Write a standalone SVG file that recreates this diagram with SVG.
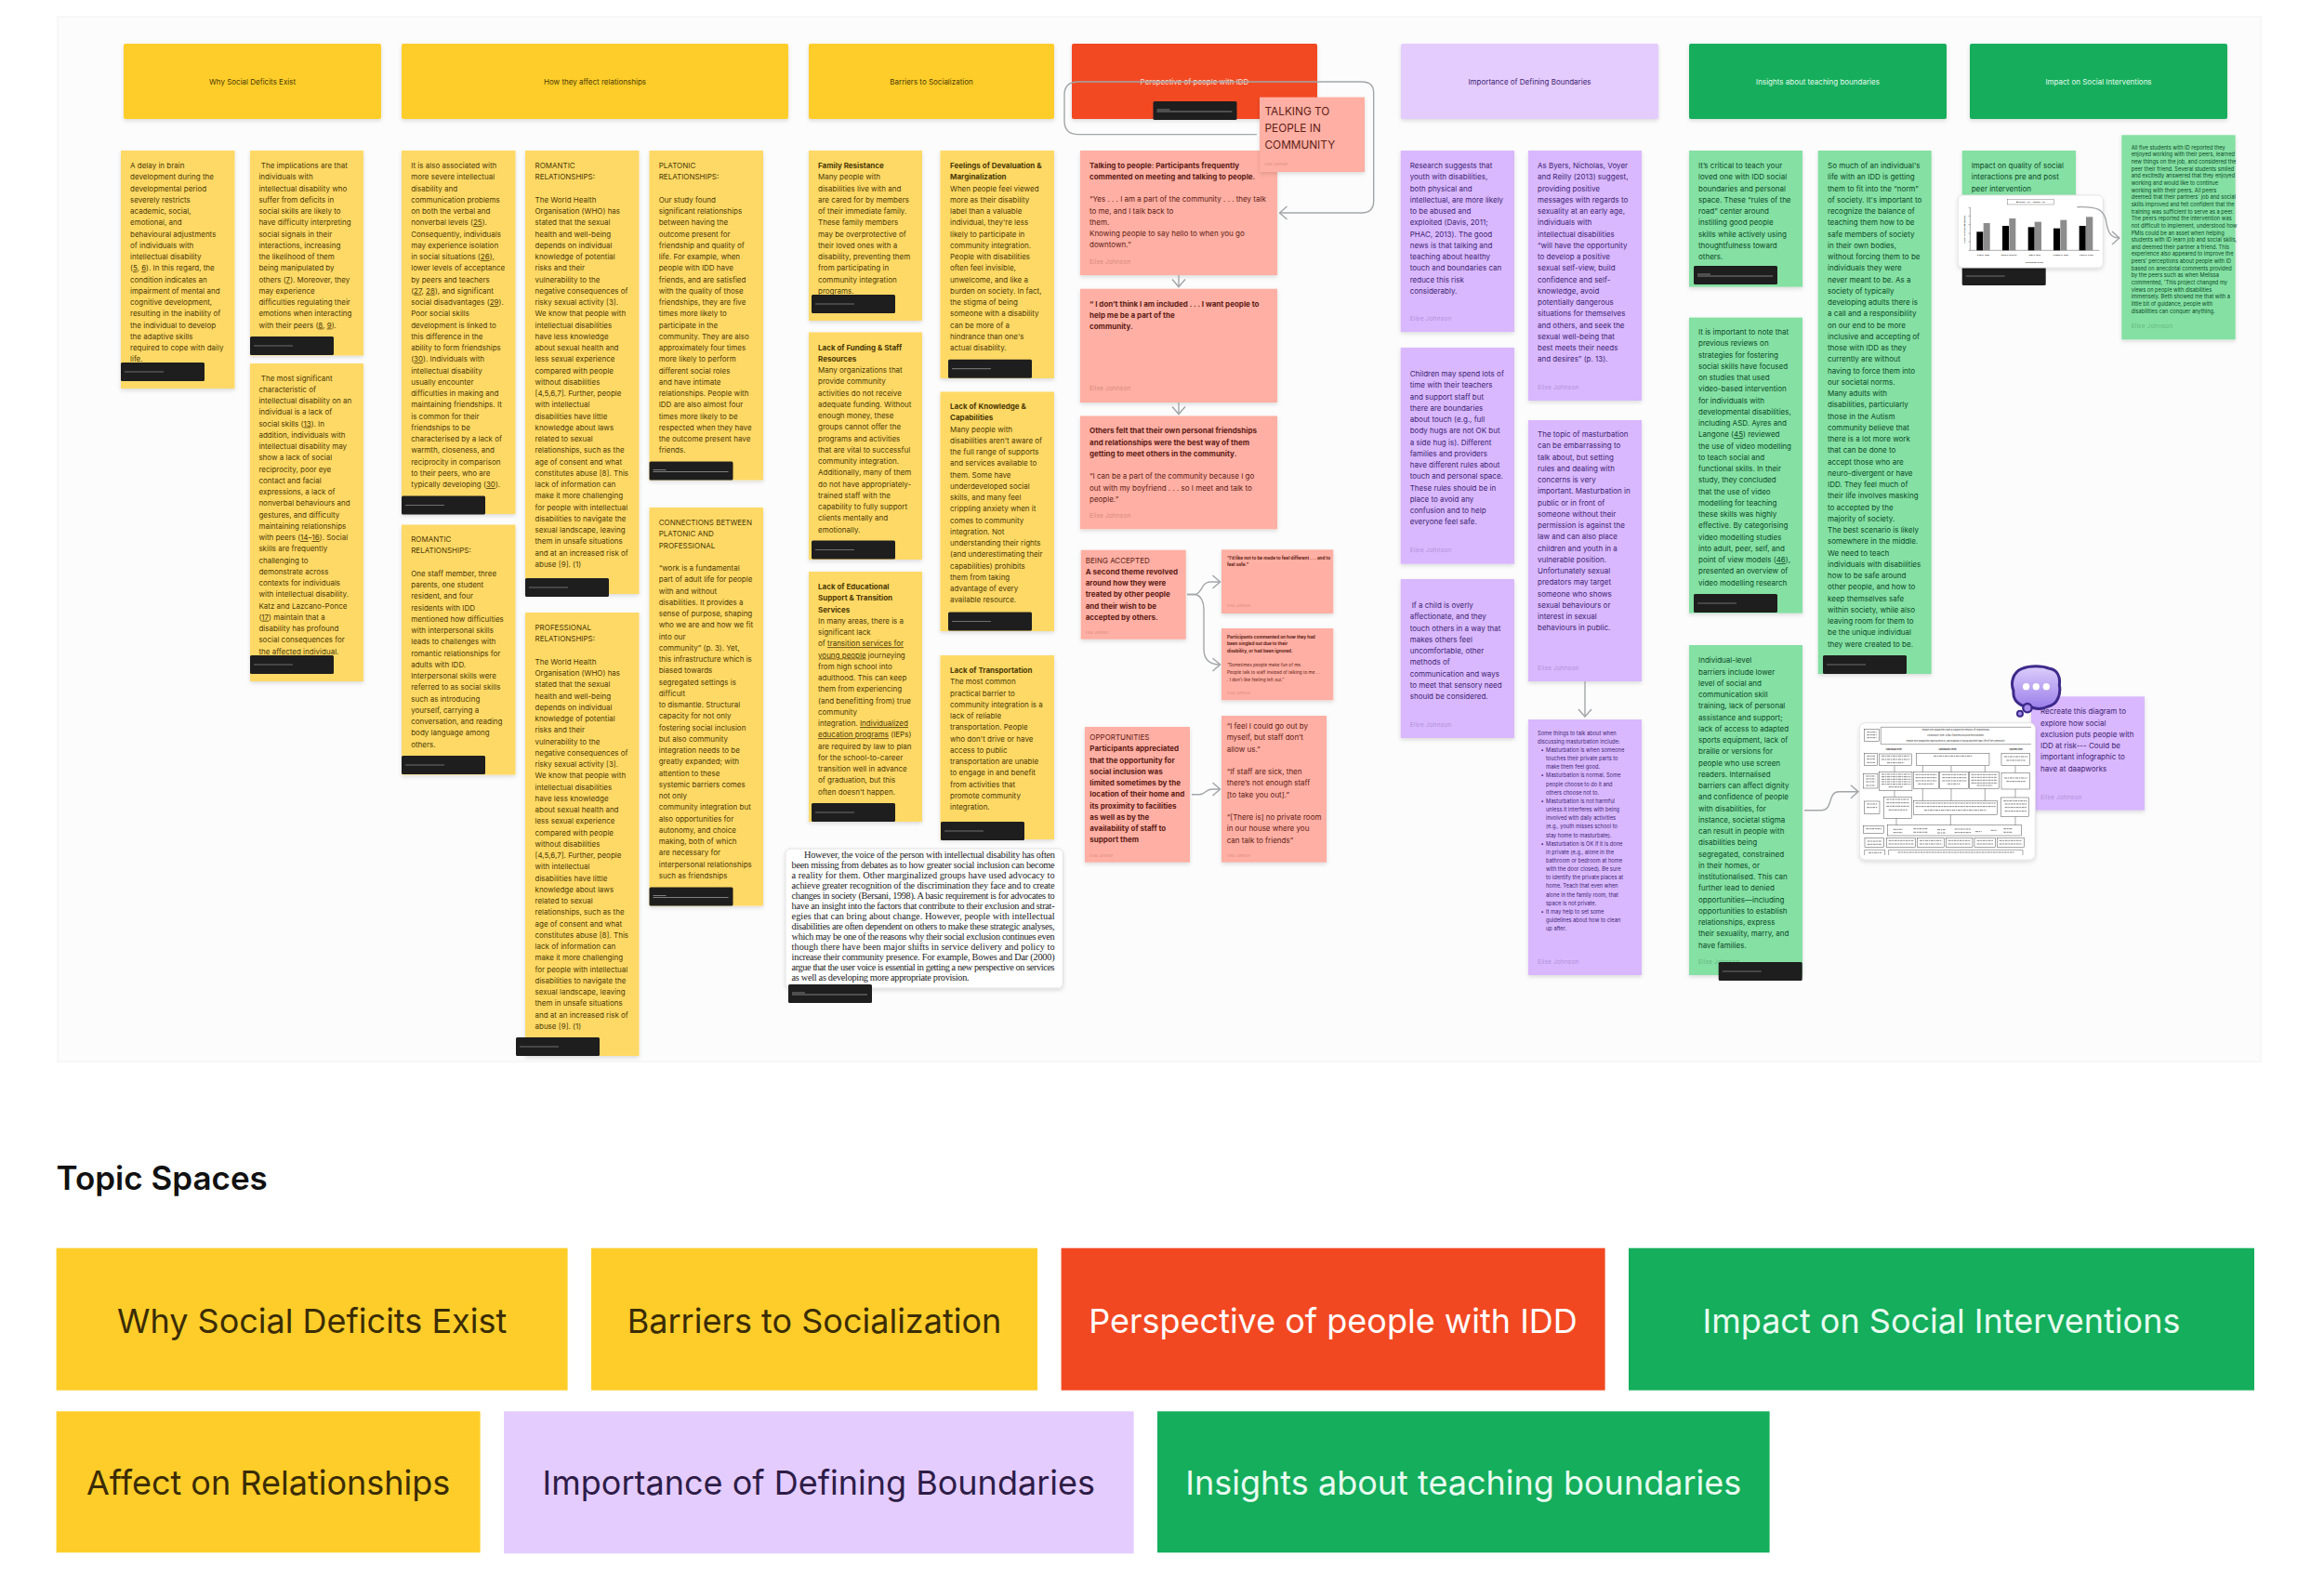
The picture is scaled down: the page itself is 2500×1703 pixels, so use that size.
<svg xmlns="http://www.w3.org/2000/svg" width="2500" height="1703" viewBox="0 0 2500 1703">
<style>
text{font-family:Inter,"Liberation Sans",sans-serif;font-size:8px}
.hd{rx:2px}
.ye{fill:#FFCD29}.re{fill:#F24822}.gr{fill:#14AE5C}.li{fill:#E4CCFF}
.lye{fill:#FFD966}.lre{fill:#FFAFA3}.lgr{fill:#85E0A3}.lvi{fill:#D9B8FF}
.sh{filter:url(#s)}
.yt text{fill:#4a3a05}.rt text{fill:#5c1d17}.gt text{fill:#0b4a28}.vt text{fill:#3e2570}
.c{text-anchor:middle;font-size:8px}
.b{font-weight:700}
.e{font-size:6.8px;fill-opacity:.3}
.e2{font-size:3.8px;fill-opacity:.3}
.u{text-decoration:underline}
.s{font-size:5.7px}
.xs{font-size:4.7px}
.con{fill:none;stroke:#a3a6a9;stroke-width:1.4;marker-end:url(#m)}
.q{font-family:"Liberation Serif",serif;font-size:10.3px;fill:#222}
.tile{font-size:36px;font-weight:400;text-anchor:middle}
.yt .tile{fill:#3a2c06}.vt .tile{fill:#2e1c47}
.box{fill:none;stroke:#333;stroke-width:1.3}
.tx{fill:none;stroke:#666;stroke-width:2.4;stroke-dasharray:9 2 5 2}
.ar{fill:none;stroke:#333;stroke-width:1.3}
.tiny{font-size:7px;fill:#333;text-anchor:middle}
.lab{font-family:"Liberation Serif",serif;font-weight:700;font-size:7.5px;fill:#222;text-anchor:middle}
</style>
<defs>
<filter id="s" x="-10%" y="-10%" width="120%" height="120%"><feDropShadow dx="0" dy="2" stdDeviation="2.2" flood-color="#000" flood-opacity=".13"/></filter>
<marker id="m" viewBox="-10 -9 11 18" refX="0" refY="0" markerWidth="11" markerHeight="18" markerUnits="userSpaceOnUse" orient="auto"><path d="M-8,-7 L0,0 L-8,7" fill="none" stroke="#a3a6a9" stroke-width="1.5"/></marker>
<linearGradient id="bub" x1="0" y1="0" x2="0" y2="1"><stop offset="0" stop-color="#DCCEFB"/><stop offset="1" stop-color="#9A7DEA"/></linearGradient>
<g id="bar"><rect width="90" height="20" rx="1.5" fill="#1e1e1e"/><path d="M4,10H46" stroke="#6f6f6f" stroke-width="1.2"/></g>
<g id="bar2"><rect width="90" height="20" rx="1.5" fill="#1e1e1e"/><path d="M4,9H18M4,11H85" stroke="#808080" stroke-width="1"/></g>
</defs>
<rect width="2500" height="1703" fill="#fff"/>
<rect id="canvas" x="62" y="18" width="2370" height="1124" fill="#fcfcfc" stroke="#f5f5f5" stroke-width="1.5"/>

<g id="headers">
<g id="h1" class="yt"><rect class="ye hd sh" x="133" y="47" width="277" height="81"/><text class="c" x="271.5" y="91">Why Social Deficits Exist</text></g>
<g id="h2" class="yt"><rect class="ye hd sh" x="432" y="47" width="416" height="81"/><text class="c" x="640" y="91">How they affect relationships</text></g>
<g id="h3" class="yt"><rect class="ye hd sh" x="870" y="47" width="264" height="81"/><text class="c" x="1002" y="91">Barriers to Socialization</text></g>
<g id="h4"><rect class="re hd sh" x="1153" y="47" width="264" height="81"/><text class="c" x="1285" y="91" style="fill:#fde0d8">Perspective of people with IDD</text><use href="#bar2" x="1240.5" y="109"/></g>
<g id="h5" class="vt"><rect class="li hd sh" x="1507" y="47" width="277" height="81"/><text class="c" x="1645.5" y="91">Importance of Defining Boundaries</text></g>
<g id="h6"><rect class="gr hd sh" x="1817" y="47" width="277" height="81"/><text class="c" x="1955.5" y="91" style="fill:#e4fbee">Insights about teaching boundaries</text></g>
<g id="h7"><rect class="gr hd sh" x="2119" y="47" width="277" height="81"/><text class="c" x="2257.5" y="91" style="fill:#e4fbee">Impact on Social Interventions</text></g>
</g>

<g id="yellow" class="yt">
<g id="n1"><rect class="lye sh" x="130" y="162" width="122.5" height="256"/>
<text y="181"><tspan x="140">A delay in brain</tspan><tspan x="140" dy="12.25">development during the</tspan><tspan x="140" dy="12.25">developmental period</tspan><tspan x="140" dy="12.25">severely restricts</tspan><tspan x="140" dy="12.25">academic, social,</tspan><tspan x="140" dy="12.25">emotional, and</tspan><tspan x="140" dy="12.25">behavioural adjustments</tspan><tspan x="140" dy="12.25">of individuals with</tspan><tspan x="140" dy="12.25">intellectual disability</tspan><tspan x="140" dy="12.25">(<tspan class="u">5</tspan>, <tspan class="u">6</tspan>). In this regard, the</tspan><tspan x="140" dy="12.25">condition indicates an</tspan><tspan x="140" dy="12.25">impairment of mental and</tspan><tspan x="140" dy="12.25">cognitive development,</tspan><tspan x="140" dy="12.25">resulting in the inability of</tspan><tspan x="140" dy="12.25">the individual to develop</tspan><tspan x="140" dy="12.25">the adaptive skills</tspan><tspan x="140" dy="12.25">required to cope with daily</tspan><tspan x="140" dy="12.25">life.</tspan></text><use href="#bar" x="130" y="390"/></g>
<g id="n2"><rect class="lye sh" x="269" y="162" width="122" height="220.5"/>
<text y="181"><tspan x="280.8">The implications are that</tspan><tspan x="278.4" dy="12.25">individuals with</tspan><tspan x="278.4" dy="12.25">intellectual disability who</tspan><tspan x="278.4" dy="12.25">suffer from deficits in</tspan><tspan x="278.4" dy="12.25">social skills are likely to</tspan><tspan x="278.4" dy="12.25">have difficulty interpreting</tspan><tspan x="278.4" dy="12.25">social signals in their</tspan><tspan x="278.4" dy="12.25">interactions, increasing</tspan><tspan x="278.4" dy="12.25">the likelihood of them</tspan><tspan x="278.4" dy="12.25">being manipulated by</tspan><tspan x="278.4" dy="12.25">others (<tspan class="u">7</tspan>). Moreover, they</tspan><tspan x="278.4" dy="12.25">may experience</tspan><tspan x="278.4" dy="12.25">difficulties regulating their</tspan><tspan x="278.4" dy="12.25">emotions when interacting</tspan><tspan x="278.4" dy="12.25">with their peers (<tspan class="u">8</tspan>, <tspan class="u">9</tspan>).</tspan></text><use href="#bar" x="269" y="362"/></g>
<g id="n3"><rect class="lye sh" x="269" y="391" width="122" height="342"/>
<text y="409.5"><tspan x="280.8">The most significant</tspan><tspan x="278.4" dy="12.25">characteristic of</tspan><tspan x="278.4" dy="12.25">intellectual disability on an</tspan><tspan x="278.4" dy="12.25">individual is a lack of</tspan><tspan x="278.4" dy="12.25">social skills (<tspan class="u">13</tspan>). In</tspan><tspan x="278.4" dy="12.25">addition, individuals with</tspan><tspan x="278.4" dy="12.25">intellectual disability may</tspan><tspan x="278.4" dy="12.25">show a lack of social</tspan><tspan x="278.4" dy="12.25">reciprocity, poor eye</tspan><tspan x="278.4" dy="12.25">contact and facial</tspan><tspan x="278.4" dy="12.25">expressions, a lack of</tspan><tspan x="278.4" dy="12.25">nonverbal behaviours and</tspan><tspan x="278.4" dy="12.25">gestures, and difficulty</tspan><tspan x="278.4" dy="12.25">maintaining relationships</tspan><tspan x="278.4" dy="12.25">with peers (<tspan class="u">14</tspan>–<tspan class="u">16</tspan>). Social</tspan><tspan x="278.4" dy="12.25">skills are frequently</tspan><tspan x="278.4" dy="12.25">challenging to</tspan><tspan x="278.4" dy="12.25">demonstrate across</tspan><tspan x="278.4" dy="12.25">contexts for individuals</tspan><tspan x="278.4" dy="12.25">with intellectual disability.</tspan><tspan x="278.4" dy="12.25">Katz and Lazcano-Ponce</tspan><tspan x="278.4" dy="12.25">(<tspan class="u">17</tspan>) maintain that a</tspan><tspan x="278.4" dy="12.25">disability has profound</tspan><tspan x="278.4" dy="12.25">social consequences for</tspan><tspan x="278.4" dy="12.25">the affected individual.</tspan></text><use href="#bar" x="269" y="705"/></g>
<g id="n4"><rect class="lye sh" x="432" y="162" width="122.5" height="391"/>
<text y="181"><tspan x="442.2">It is also associated with</tspan><tspan x="442.2" dy="12.25">more severe intellectual</tspan><tspan x="442.2" dy="12.25">disability and</tspan><tspan x="442.2" dy="12.25">communication problems</tspan><tspan x="442.2" dy="12.25">on both the verbal and</tspan><tspan x="442.2" dy="12.25">nonverbal levels (<tspan class="u">25</tspan>).</tspan><tspan x="442.2" dy="12.25">Consequently, individuals</tspan><tspan x="442.2" dy="12.25">may experience isolation</tspan><tspan x="442.2" dy="12.25">in social situations (<tspan class="u">26</tspan>),</tspan><tspan x="442.2" dy="12.25">lower levels of acceptance</tspan><tspan x="442.2" dy="12.25">by peers and teachers</tspan><tspan x="442.2" dy="12.25">(<tspan class="u">27</tspan>, <tspan class="u">28</tspan>), and significant</tspan><tspan x="442.2" dy="12.25">social disadvantages (<tspan class="u">29</tspan>).</tspan><tspan x="442.2" dy="12.25">Poor social skills</tspan><tspan x="442.2" dy="12.25">development is linked to</tspan><tspan x="442.2" dy="12.25">this difference in the</tspan><tspan x="442.2" dy="12.25">ability to form friendships</tspan><tspan x="442.2" dy="12.25">(<tspan class="u">30</tspan>). Individuals with</tspan><tspan x="442.2" dy="12.25">intellectual disability</tspan><tspan x="442.2" dy="12.25">usually encounter</tspan><tspan x="442.2" dy="12.25">difficulties in making and</tspan><tspan x="442.2" dy="12.25">maintaining friendships. It</tspan><tspan x="442.2" dy="12.25">is common for their</tspan><tspan x="442.2" dy="12.25">friendships to be</tspan><tspan x="442.2" dy="12.25">characterised by a lack of</tspan><tspan x="442.2" dy="12.25">warmth, closeness, and</tspan><tspan x="442.2" dy="12.25">reciprocity in comparison</tspan><tspan x="442.2" dy="12.25">to their peers, who are</tspan><tspan x="442.2" dy="12.25">typically developing (<tspan class="u">30</tspan>).</tspan></text><use href="#bar" x="432" y="533.5"/></g>
<g id="n5"><rect class="lye sh" x="432" y="564.5" width="122.5" height="269"/>
<text y="583"><tspan x="442.2">ROMANTIC</tspan><tspan x="442.2" dy="12.25">RELATIONSHIPS:</tspan><tspan x="442.2" dy="24.5">One staff member, three</tspan><tspan x="442.2" dy="12.25">parents, one student</tspan><tspan x="442.2" dy="12.25">resident, and four</tspan><tspan x="442.2" dy="12.25">residents with IDD</tspan><tspan x="442.2" dy="12.25">mentioned how difficulties</tspan><tspan x="442.2" dy="12.25">with interpersonal skills</tspan><tspan x="442.2" dy="12.25">leads to challenges with</tspan><tspan x="442.2" dy="12.25">romantic relationships for</tspan><tspan x="442.2" dy="12.25">adults with IDD.</tspan><tspan x="442.2" dy="12.25">Interpersonal skills were</tspan><tspan x="442.2" dy="12.25">referred to as social skills</tspan><tspan x="442.2" dy="12.25">such as introducing</tspan><tspan x="442.2" dy="12.25">yourself, carrying a</tspan><tspan x="442.2" dy="12.25">conversation, and reading</tspan><tspan x="442.2" dy="12.25">body language among</tspan><tspan x="442.2" dy="12.25">others.</tspan></text><use href="#bar" x="432" y="813"/></g>
<g id="n6"><rect class="lye sh" x="565" y="162" width="122.5" height="477"/>
<text y="181"><tspan x="575.5">ROMANTIC</tspan><tspan x="575.5" dy="12.25">RELATIONSHIPS:</tspan><tspan x="575.5" dy="24.5">The World Health</tspan><tspan x="575.5" dy="12.25">Organisation (WHO) has</tspan><tspan x="575.5" dy="12.25">stated that the sexual</tspan><tspan x="575.5" dy="12.25">health and well-being</tspan><tspan x="575.5" dy="12.25">depends on individual</tspan><tspan x="575.5" dy="12.25">knowledge of potential</tspan><tspan x="575.5" dy="12.25">risks and their</tspan><tspan x="575.5" dy="12.25">vulnerability to the</tspan><tspan x="575.5" dy="12.25">negative consequences of</tspan><tspan x="575.5" dy="12.25">risky sexual activity [3].</tspan><tspan x="575.5" dy="12.25">We know that people with</tspan><tspan x="575.5" dy="12.25">intellectual disabilities</tspan><tspan x="575.5" dy="12.25">have less knowledge</tspan><tspan x="575.5" dy="12.25">about sexual health and</tspan><tspan x="575.5" dy="12.25">less sexual experience</tspan><tspan x="575.5" dy="12.25">compared with people</tspan><tspan x="575.5" dy="12.25">without disabilities</tspan><tspan x="575.5" dy="12.25">[4,5,6,7]. Further, people</tspan><tspan x="575.5" dy="12.25">with intellectual</tspan><tspan x="575.5" dy="12.25">disabilities have little</tspan><tspan x="575.5" dy="12.25">knowledge about laws</tspan><tspan x="575.5" dy="12.25">related to sexual</tspan><tspan x="575.5" dy="12.25">relationships, such as the</tspan><tspan x="575.5" dy="12.25">age of consent and what</tspan><tspan x="575.5" dy="12.25">constitutes abuse [8]. This</tspan><tspan x="575.5" dy="12.25">lack of information can</tspan><tspan x="575.5" dy="12.25">make it more challenging</tspan><tspan x="575.5" dy="12.25">for people with intellectual</tspan><tspan x="575.5" dy="12.25">disabilities to navigate the</tspan><tspan x="575.5" dy="12.25">sexual landscape, leaving</tspan><tspan x="575.5" dy="12.25">them in unsafe situations</tspan><tspan x="575.5" dy="12.25">and at an increased risk of</tspan><tspan x="575.5" dy="12.25">abuse [9]. (1)</tspan></text><use href="#bar" x="565" y="622"/></g>
<g id="n7"><rect class="lye sh" x="565" y="659" width="122.5" height="477"/>
<text y="678"><tspan x="575.5">PROFESSIONAL</tspan><tspan x="575.5" dy="12.25">RELATIONSHIPS:</tspan><tspan x="575.5" dy="24.5">The World Health</tspan><tspan x="575.5" dy="12.25">Organisation (WHO) has</tspan><tspan x="575.5" dy="12.25">stated that the sexual</tspan><tspan x="575.5" dy="12.25">health and well-being</tspan><tspan x="575.5" dy="12.25">depends on individual</tspan><tspan x="575.5" dy="12.25">knowledge of potential</tspan><tspan x="575.5" dy="12.25">risks and their</tspan><tspan x="575.5" dy="12.25">vulnerability to the</tspan><tspan x="575.5" dy="12.25">negative consequences of</tspan><tspan x="575.5" dy="12.25">risky sexual activity [3].</tspan><tspan x="575.5" dy="12.25">We know that people with</tspan><tspan x="575.5" dy="12.25">intellectual disabilities</tspan><tspan x="575.5" dy="12.25">have less knowledge</tspan><tspan x="575.5" dy="12.25">about sexual health and</tspan><tspan x="575.5" dy="12.25">less sexual experience</tspan><tspan x="575.5" dy="12.25">compared with people</tspan><tspan x="575.5" dy="12.25">without disabilities</tspan><tspan x="575.5" dy="12.25">[4,5,6,7]. Further, people</tspan><tspan x="575.5" dy="12.25">with intellectual</tspan><tspan x="575.5" dy="12.25">disabilities have little</tspan><tspan x="575.5" dy="12.25">knowledge about laws</tspan><tspan x="575.5" dy="12.25">related to sexual</tspan><tspan x="575.5" dy="12.25">relationships, such as the</tspan><tspan x="575.5" dy="12.25">age of consent and what</tspan><tspan x="575.5" dy="12.25">constitutes abuse [8]. This</tspan><tspan x="575.5" dy="12.25">lack of information can</tspan><tspan x="575.5" dy="12.25">make it more challenging</tspan><tspan x="575.5" dy="12.25">for people with intellectual</tspan><tspan x="575.5" dy="12.25">disabilities to navigate the</tspan><tspan x="575.5" dy="12.25">sexual landscape, leaving</tspan><tspan x="575.5" dy="12.25">them in unsafe situations</tspan><tspan x="575.5" dy="12.25">and at an increased risk of</tspan><tspan x="575.5" dy="12.25">abuse [9]. (1)</tspan></text><use href="#bar" x="555" y="1116"/></g>
<g id="n8"><rect class="lye sh" x="698.5" y="162" width="122.5" height="354.5"/>
<text y="181"><tspan x="708.7">PLATONIC</tspan><tspan x="708.7" dy="12.25">RELATIONSHIPS:</tspan><tspan x="708.7" dy="24.5">Our study found</tspan><tspan x="708.7" dy="12.25">significant relationships</tspan><tspan x="708.7" dy="12.25">between having the</tspan><tspan x="708.7" dy="12.25">outcome present for</tspan><tspan x="708.7" dy="12.25">friendship and quality of</tspan><tspan x="708.7" dy="12.25">life. For example, when</tspan><tspan x="708.7" dy="12.25">people with IDD have</tspan><tspan x="708.7" dy="12.25">friends, and are satisfied</tspan><tspan x="708.7" dy="12.25">with the quality of those</tspan><tspan x="708.7" dy="12.25">friendships, they are five</tspan><tspan x="708.7" dy="12.25">times more likely to</tspan><tspan x="708.7" dy="12.25">participate in the</tspan><tspan x="708.7" dy="12.25">community. They are also</tspan><tspan x="708.7" dy="12.25">approximately four times</tspan><tspan x="708.7" dy="12.25">more likely to perform</tspan><tspan x="708.7" dy="12.25">different social roles</tspan><tspan x="708.7" dy="12.25">and have intimate</tspan><tspan x="708.7" dy="12.25">relationships. People with</tspan><tspan x="708.7" dy="12.25">IDD are also almost four</tspan><tspan x="708.7" dy="12.25">times more likely to be</tspan><tspan x="708.7" dy="12.25">respected when they have</tspan><tspan x="708.7" dy="12.25">the outcome present have</tspan><tspan x="708.7" dy="12.25">friends.</tspan></text><use href="#bar2" x="698.5" y="496.5"/></g>
<g id="n9"><rect class="lye sh" x="698.5" y="546" width="122.5" height="428.5"/>
<text y="565"><tspan x="708.7">CONNECTIONS BETWEEN</tspan><tspan x="708.7" dy="12.25">PLATONIC AND</tspan><tspan x="708.7" dy="12.25">PROFESSIONAL</tspan><tspan x="708.7" dy="24.5">“work is a fundamental</tspan><tspan x="708.7" dy="12.25">part of adult life for people</tspan><tspan x="708.7" dy="12.25">with and without</tspan><tspan x="708.7" dy="12.25">disabilities. It provides a</tspan><tspan x="708.7" dy="12.25">sense of purpose, shaping</tspan><tspan x="708.7" dy="12.25">who we are and how we fit</tspan><tspan x="708.7" dy="12.25">into our</tspan><tspan x="708.7" dy="12.25">community” (p. 3). Yet,</tspan><tspan x="708.7" dy="12.25">this infrastructure which is</tspan><tspan x="708.7" dy="12.25">biased towards</tspan><tspan x="708.7" dy="12.25">segregated settings is</tspan><tspan x="708.7" dy="12.25">difficult</tspan><tspan x="708.7" dy="12.25">to dismantle. Structural</tspan><tspan x="708.7" dy="12.25">capacity for not only</tspan><tspan x="708.7" dy="12.25">fostering social inclusion</tspan><tspan x="708.7" dy="12.25">but also community</tspan><tspan x="708.7" dy="12.25">integration needs to be</tspan><tspan x="708.7" dy="12.25">greatly expanded; with</tspan><tspan x="708.7" dy="12.25">attention to these</tspan><tspan x="708.7" dy="12.25">systemic barriers comes</tspan><tspan x="708.7" dy="12.25">not only</tspan><tspan x="708.7" dy="12.25">community integration but</tspan><tspan x="708.7" dy="12.25">also opportunities for</tspan><tspan x="708.7" dy="12.25">autonomy, and choice</tspan><tspan x="708.7" dy="12.25">making, both of which</tspan><tspan x="708.7" dy="12.25">are necessary for</tspan><tspan x="708.7" dy="12.25">interpersonal relationships</tspan><tspan x="708.7" dy="12.25">such as friendships</tspan></text><use href="#bar2" x="698.5" y="954.5"/></g>
<g id="n10"><rect class="lye sh" x="870" y="162" width="122" height="183"/>
<text y="181"><tspan x="880" class="b">Family Resistance</tspan><tspan x="880" dy="12.25">Many people with</tspan><tspan x="880" dy="12.25">disabilities live with and</tspan><tspan x="880" dy="12.25">are cared for by members</tspan><tspan x="880" dy="12.25">of their immediate family.</tspan><tspan x="880" dy="12.25">These family members</tspan><tspan x="880" dy="12.25">may be overprotective of</tspan><tspan x="880" dy="12.25">their loved ones with a</tspan><tspan x="880" dy="12.25">disability, preventing them</tspan><tspan x="880" dy="12.25">from participating in</tspan><tspan x="880" dy="12.25">community integration</tspan><tspan x="880" dy="12.25">programs.</tspan></text><use href="#bar" x="873" y="317"/></g>
<g id="n11"><rect class="lye sh" x="870" y="357.5" width="122" height="244.5"/>
<text y="376.5"><tspan x="880" class="b">Lack of Funding &amp; Staff</tspan><tspan x="880" dy="12.25" class="b">Resources</tspan><tspan x="880" dy="12.25">Many organizations that</tspan><tspan x="880" dy="12.25">provide community</tspan><tspan x="880" dy="12.25">activities do not receive</tspan><tspan x="880" dy="12.25">adequate funding. Without</tspan><tspan x="880" dy="12.25">enough money, these</tspan><tspan x="880" dy="12.25">groups cannot offer the</tspan><tspan x="880" dy="12.25">programs and activities</tspan><tspan x="880" dy="12.25">that are vital to successful</tspan><tspan x="880" dy="12.25">community integration.</tspan><tspan x="880" dy="12.25">Additionally, many of them</tspan><tspan x="880" dy="12.25">do not have appropriately-</tspan><tspan x="880" dy="12.25">trained staff with the</tspan><tspan x="880" dy="12.25">capability to fully support</tspan><tspan x="880" dy="12.25">clients mentally and</tspan><tspan x="880" dy="12.25">emotionally.</tspan></text><use href="#bar" x="873" y="581.5"/></g>
<g id="n12"><rect class="lye sh" x="870" y="615" width="122" height="269"/>
<text y="634"><tspan x="880" class="b">Lack of Educational</tspan><tspan x="880" dy="12.25" class="b">Support &amp; Transition</tspan><tspan x="880" dy="12.25" class="b">Services</tspan><tspan x="880" dy="12.25">In many areas, there is a</tspan><tspan x="880" dy="12.25">significant lack</tspan><tspan x="880" dy="12.25">of <tspan class="u">transition services for</tspan></tspan><tspan x="880" dy="12.25"><tspan class="u">young people</tspan> journeying</tspan><tspan x="880" dy="12.25">from high school into</tspan><tspan x="880" dy="12.25">adulthood. This can keep</tspan><tspan x="880" dy="12.25">them from experiencing</tspan><tspan x="880" dy="12.25">(and benefitting from) true</tspan><tspan x="880" dy="12.25">community</tspan><tspan x="880" dy="12.25">integration. <tspan class="u">Individualized</tspan></tspan><tspan x="880" dy="12.25"><tspan class="u">education programs</tspan> (IEPs)</tspan><tspan x="880" dy="12.25">are required by law to plan</tspan><tspan x="880" dy="12.25">for the school-to-career</tspan><tspan x="880" dy="12.25">transition well in advance</tspan><tspan x="880" dy="12.25">of graduation, but this</tspan><tspan x="880" dy="12.25">often doesn't happen.</tspan></text><use href="#bar" x="873" y="864"/></g>
<g id="n13"><rect class="lye sh" x="1011.5" y="162" width="122.5" height="245"/>
<text y="181"><tspan x="1022" class="b">Feelings of Devaluation &amp;</tspan><tspan x="1022" dy="12.25" class="b">Marginalization</tspan><tspan x="1022" dy="12.25">When people feel viewed</tspan><tspan x="1022" dy="12.25">more as their disability</tspan><tspan x="1022" dy="12.25">label than a valuable</tspan><tspan x="1022" dy="12.25">individual, they're less</tspan><tspan x="1022" dy="12.25">likely to participate in</tspan><tspan x="1022" dy="12.25">community integration.</tspan><tspan x="1022" dy="12.25">People with disabilities</tspan><tspan x="1022" dy="12.25">often feel invisible,</tspan><tspan x="1022" dy="12.25">unwelcome, and like a</tspan><tspan x="1022" dy="12.25">burden on society. In fact,</tspan><tspan x="1022" dy="12.25">the stigma of being</tspan><tspan x="1022" dy="12.25">someone with a disability</tspan><tspan x="1022" dy="12.25">can be more of a</tspan><tspan x="1022" dy="12.25">hindrance than one's</tspan><tspan x="1022" dy="12.25">actual disability.</tspan></text><use href="#bar" x="1020" y="386.7"/></g>
<g id="n14"><rect class="lye sh" x="1011.5" y="421.5" width="122.5" height="257.5"/>
<text y="440"><tspan x="1022" class="b">Lack of Knowledge &amp;</tspan><tspan x="1022" dy="12.25" class="b">Capabilities</tspan><tspan x="1022" dy="12.25">Many people with</tspan><tspan x="1022" dy="12.25">disabilities aren't aware of</tspan><tspan x="1022" dy="12.25">the full range of supports</tspan><tspan x="1022" dy="12.25">and services available to</tspan><tspan x="1022" dy="12.25">them. Some have</tspan><tspan x="1022" dy="12.25">underdeveloped social</tspan><tspan x="1022" dy="12.25">skills, and many feel</tspan><tspan x="1022" dy="12.25">crippling anxiety when it</tspan><tspan x="1022" dy="12.25">comes to community</tspan><tspan x="1022" dy="12.25">integration. Not</tspan><tspan x="1022" dy="12.25">understanding their rights</tspan><tspan x="1022" dy="12.25">(and underestimating their</tspan><tspan x="1022" dy="12.25">capabilities) prohibits</tspan><tspan x="1022" dy="12.25">them from taking</tspan><tspan x="1022" dy="12.25">advantage of every</tspan><tspan x="1022" dy="12.25">available resource.</tspan></text><use href="#bar" x="1020" y="658.5"/></g>
<g id="n15"><rect class="lye sh" x="1011.5" y="705" width="122.5" height="198"/>
<text y="724"><tspan x="1022" class="b">Lack of Transportation</tspan><tspan x="1022" dy="12.25">The most common</tspan><tspan x="1022" dy="12.25">practical barrier to</tspan><tspan x="1022" dy="12.25">community integration is a</tspan><tspan x="1022" dy="12.25">lack of reliable</tspan><tspan x="1022" dy="12.25">transportation. People</tspan><tspan x="1022" dy="12.25">who don't drive or have</tspan><tspan x="1022" dy="12.25">access to public</tspan><tspan x="1022" dy="12.25">transportation are unable</tspan><tspan x="1022" dy="12.25">to engage in and benefit</tspan><tspan x="1022" dy="12.25">from activities that</tspan><tspan x="1022" dy="12.25">promote community</tspan><tspan x="1022" dy="12.25">integration.</tspan></text><use href="#bar" x="1012" y="884"/></g>
</g>

<g id="quote"><rect class="sh" x="845" y="913" width="298.5" height="150" rx="5" fill="#fff" stroke="#e2e2e2"/>
<text class="q" x="865" y="923.3" textLength="270" lengthAdjust="spacing">However, the voice of the person with intellectual disability has often</text>
<text class="q" x="851.6" y="934.3" textLength="283" lengthAdjust="spacing">been missing from debates as to how greater social inclusion can become</text>
<text class="q" x="851.6" y="945.2" textLength="283" lengthAdjust="spacing">a reality for them. Other marginalized groups have used advocacy to</text>
<text class="q" x="851.6" y="956.2" textLength="283" lengthAdjust="spacing">achieve greater recognition of the discrimination they face and to create</text>
<text class="q" x="851.6" y="967.1" textLength="283" lengthAdjust="spacing">changes in society (Bersani, 1998). A basic requirement is for advocates to</text>
<text class="q" x="851.6" y="978.1" textLength="283" lengthAdjust="spacing">have an insight into the factors that contribute to their exclusion and strat-</text>
<text class="q" x="851.6" y="989" textLength="283" lengthAdjust="spacing">egies that can bring about change. However, people with intellectual</text>
<text class="q" x="851.6" y="1000" textLength="283" lengthAdjust="spacing">disabilities are often dependent on others to make these strategic analyses,</text>
<text class="q" x="851.6" y="1011" textLength="283" lengthAdjust="spacing">which may be one of the reasons why their social exclusion continues even</text>
<text class="q" x="851.6" y="1021.9" textLength="283" lengthAdjust="spacing">though there have been major shifts in service delivery and policy to</text>
<text class="q" x="851.6" y="1032.9" textLength="283" lengthAdjust="spacing">increase their community presence. For example, Bowes and Dar (2000)</text>
<text class="q" x="851.6" y="1043.8" textLength="283" lengthAdjust="spacing">argue that the user voice is essential in getting a new perspective on services</text>
<text class="q" x="851.6" y="1054.8" textLength="191" lengthAdjust="spacing">as well as developing more appropriate provision.</text>
<use href="#bar2" x="848" y="1059"/></g>

<g id="pink" class="rt">
<g id="p1"><rect class="lre sh" x="1162" y="162" width="212" height="134"/>
<text y="180.7"><tspan x="1172" class="b">Talking to people: Participants frequently</tspan><tspan x="1172" dy="12.25" class="b">commented on meeting and talking to people.</tspan><tspan x="1172" dy="24.5">“Yes . . . I am a part of the community . . . they talk</tspan><tspan x="1172" dy="12.25">to me, and I talk back to</tspan><tspan x="1172" dy="12.25">them.</tspan><tspan x="1172" dy="12.25">Knowing people to say hello to when you go</tspan><tspan x="1172" dy="12.25">downtown.”</tspan></text><text class="e" x="1172" y="283.5">Elise Johnson</text></g>
<g id="p2"><rect class="lre sh" x="1162" y="310.7" width="212" height="122.3"/>
<text y="329.6"><tspan x="1172" class="b">“ I don’t think I am included . . . I want people to</tspan><tspan x="1172" dy="12.25" class="b">help me be a part of the</tspan><tspan x="1172" dy="12.25" class="b">community.</tspan></text><text class="e" x="1172" y="420.3">Elise Johnson</text></g>
<g id="p3"><rect class="lre sh" x="1162" y="447.5" width="212" height="121.8"/>
<text y="466.4"><tspan x="1172" class="b">Others felt that their own personal friendships</tspan><tspan x="1172" dy="12.25" class="b">and relationships were the best way of them</tspan><tspan x="1172" dy="12.25" class="b">getting to meet others in the community.</tspan><tspan x="1172" dy="24.5">“I can be a part of the community because I go</tspan><tspan x="1172" dy="12.25">out with my boyfriend . . . so I meet and talk to</tspan><tspan x="1172" dy="12.25">people.”</tspan></text><text class="e" x="1172" y="557">Elise Johnson</text></g>
<g id="p4"><rect class="lre sh" x="1162.7" y="591.7" width="113" height="96"/>
<text y="605.7"><tspan x="1167.7">BEING ACCEPTED</tspan><tspan x="1167.7" dy="12.25" class="b">A second theme revolved</tspan><tspan x="1167.7" dy="12.25" class="b">around how they were</tspan><tspan x="1167.7" dy="12.25" class="b">treated by other people</tspan><tspan x="1167.7" dy="12.25" class="b">and their wish to be</tspan><tspan x="1167.7" dy="12.25" class="b">accepted by others.</tspan></text><text class="e2" x="1167.7" y="682">Elise Johnson</text></g>
<g id="p5"><rect class="lre sh" x="1314" y="591.3" width="120.3" height="68.7"/>
<text y="601.5" class="xs"><tspan x="1320" class="b xs">“I’d like not to be made to feel different . . . and to</tspan><tspan x="1320" dy="7.7" class="b xs">feel safe.”</tspan></text><text class="e2" x="1320" y="653">Elise Johnson</text></g>
<g id="p6"><rect class="lre sh" x="1314" y="676" width="120.3" height="77.3"/>
<text y="686.5"><tspan x="1320" class="b xs">Participants commented on how they had</tspan><tspan x="1320" dy="7.7" class="b xs">been singled out due to their</tspan><tspan x="1320" dy="7.7" class="b xs">disability, or had been ignored.</tspan><tspan x="1320" dy="15.3" class="xs">“Sometimes people make fun of me.</tspan><tspan x="1320" dy="7.7" class="xs">People talk to staff instead of talking to me . .</tspan><tspan x="1320" dy="7.7" class="xs">. I don’t like feeling left out.”</tspan></text><text class="e2" x="1320" y="746.7">Elise Johnson</text></g>
<g id="p7"><rect class="lre sh" x="1167" y="782" width="113" height="145.7"/>
<text y="796"><tspan x="1172.3">OPPORTUNITIES</tspan><tspan x="1172.3" dy="12.25" class="b">Participants appreciated</tspan><tspan x="1172.3" dy="12.25" class="b">that the opportunity for</tspan><tspan x="1172.3" dy="12.25" class="b">social inclusion was</tspan><tspan x="1172.3" dy="12.25" class="b">limited sometimes by the</tspan><tspan x="1172.3" dy="12.25" class="b">location of their home and</tspan><tspan x="1172.3" dy="12.25" class="b">its proximity to facilities</tspan><tspan x="1172.3" dy="12.25" class="b">as well as by the</tspan><tspan x="1172.3" dy="12.25" class="b">availability of staff to</tspan><tspan x="1172.3" dy="12.25" class="b">support them</tspan></text><text class="e2" x="1172.3" y="921.7">Elise Johnson</text></g>
<g id="p8"><rect class="lre sh" x="1314" y="770" width="113" height="157.7"/>
<text y="784"><tspan x="1319.7">“I feel I could go out by</tspan><tspan x="1319.7" dy="12.25">myself, but staff don’t</tspan><tspan x="1319.7" dy="12.25">allow us.”</tspan><tspan x="1319.7" dy="24.5">“If staff are sick, then</tspan><tspan x="1319.7" dy="12.25">there’s not enough staff</tspan><tspan x="1319.7" dy="12.25">[to take you out].”</tspan><tspan x="1319.7" dy="24.5">“[There is] no private room</tspan><tspan x="1319.7" dy="12.25">in our house where you</tspan><tspan x="1319.7" dy="12.25">can talk to friends”</tspan></text><text class="e2" x="1319.7" y="921.7">Elise Johnson</text></g>
</g>

<g id="violet" class="vt">
<g id="l1"><rect class="lvi sh" x="1506.7" y="162" width="122.3" height="195"/>
<text y="181"><tspan x="1516.7">Research suggests that</tspan><tspan x="1516.7" dy="12.25">youth with disabilities,</tspan><tspan x="1516.7" dy="12.25">both physical and</tspan><tspan x="1516.7" dy="12.25">intellectual, are more likely</tspan><tspan x="1516.7" dy="12.25">to be abused and</tspan><tspan x="1516.7" dy="12.25">exploited (Davis, 2011;</tspan><tspan x="1516.7" dy="12.25">PHAC, 2013). The good</tspan><tspan x="1516.7" dy="12.25">news is that talking and</tspan><tspan x="1516.7" dy="12.25">teaching about healthy</tspan><tspan x="1516.7" dy="12.25">touch and boundaries can</tspan><tspan x="1516.7" dy="12.25">reduce this risk</tspan><tspan x="1516.7" dy="12.25">considerably.</tspan></text><text class="e" x="1516.7" y="345">Elise Johnson</text></g>
<g id="l2"><rect class="lvi sh" x="1506.7" y="374" width="122.3" height="232.7"/>
<text y="405"><tspan x="1516.7">Children may spend lots of</tspan><tspan x="1516.7" dy="12.25">time with their teachers</tspan><tspan x="1516.7" dy="12.25">and support staff but</tspan><tspan x="1516.7" dy="12.25">there are boundaries</tspan><tspan x="1516.7" dy="12.25">about touch (e.g., full</tspan><tspan x="1516.7" dy="12.25">body hugs are not OK but</tspan><tspan x="1516.7" dy="12.25">a side hug is). Different</tspan><tspan x="1516.7" dy="12.25">families and providers</tspan><tspan x="1516.7" dy="12.25">have different rules about</tspan><tspan x="1516.7" dy="12.25">touch and personal space.</tspan><tspan x="1516.7" dy="12.25">These rules should be in</tspan><tspan x="1516.7" dy="12.25">place to avoid any</tspan><tspan x="1516.7" dy="12.25">confusion and to help</tspan><tspan x="1516.7" dy="12.25">everyone feel safe.</tspan></text><text class="e" x="1516.7" y="594">Elise Johnson</text></g>
<g id="l3"><rect class="lvi sh" x="1506.7" y="623" width="122.3" height="171"/>
<text y="654"><tspan x="1518.7">If a child is overly</tspan><tspan x="1516.7" dy="12.25">affectionate, and they</tspan><tspan x="1516.7" dy="12.25">touch others in a way that</tspan><tspan x="1516.7" dy="12.25">makes others feel</tspan><tspan x="1516.7" dy="12.25">uncomfortable, other</tspan><tspan x="1516.7" dy="12.25">methods of</tspan><tspan x="1516.7" dy="12.25">communication and ways</tspan><tspan x="1516.7" dy="12.25">to meet that sensory need</tspan><tspan x="1516.7" dy="12.25">should be considered.</tspan></text><text class="e" x="1516.7" y="782">Elise Johnson</text></g>
<g id="r1"><rect class="lvi sh" x="1644" y="162" width="122" height="269"/>
<text y="181"><tspan x="1654">As Byers, Nicholas, Voyer</tspan><tspan x="1654" dy="12.25">and Reilly (2013) suggest,</tspan><tspan x="1654" dy="12.25">providing positive</tspan><tspan x="1654" dy="12.25">messages with regards to</tspan><tspan x="1654" dy="12.25">sexuality at an early age,</tspan><tspan x="1654" dy="12.25">individuals with</tspan><tspan x="1654" dy="12.25">intellectual disabilities</tspan><tspan x="1654" dy="12.25">“will have the opportunity</tspan><tspan x="1654" dy="12.25">to develop a positive</tspan><tspan x="1654" dy="12.25">sexual self-view, build</tspan><tspan x="1654" dy="12.25">confidence and self-</tspan><tspan x="1654" dy="12.25">knowledge, avoid</tspan><tspan x="1654" dy="12.25">potentially dangerous</tspan><tspan x="1654" dy="12.25">situations for themselves</tspan><tspan x="1654" dy="12.25">and others, and seek the</tspan><tspan x="1654" dy="12.25">sexual well-being that</tspan><tspan x="1654" dy="12.25">best meets their needs</tspan><tspan x="1654" dy="12.25">and desires” (p. 13).</tspan></text><text class="e" x="1654" y="418.6">Elise Johnson</text></g>
<g id="r2"><rect class="lvi sh" x="1644" y="452" width="122" height="281"/>
<text y="470"><tspan x="1654">The topic of masturbation</tspan><tspan x="1654" dy="12.25">can be embarrassing to</tspan><tspan x="1654" dy="12.25">talk about, but setting</tspan><tspan x="1654" dy="12.25">rules and dealing with</tspan><tspan x="1654" dy="12.25">concerns is very</tspan><tspan x="1654" dy="12.25">important. Masturbation in</tspan><tspan x="1654" dy="12.25">public or in front of</tspan><tspan x="1654" dy="12.25">someone without their</tspan><tspan x="1654" dy="12.25">permission is against the</tspan><tspan x="1654" dy="12.25">law and can also place</tspan><tspan x="1654" dy="12.25">children and youth in a</tspan><tspan x="1654" dy="12.25">vulnerable position.</tspan><tspan x="1654" dy="12.25">Unfortunately sexual</tspan><tspan x="1654" dy="12.25">predators may target</tspan><tspan x="1654" dy="12.25">someone who shows</tspan><tspan x="1654" dy="12.25">sexual behaviours or</tspan><tspan x="1654" dy="12.25">interest in sexual</tspan><tspan x="1654" dy="12.25">behaviours in public.</tspan></text><text class="e" x="1654" y="721">Elise Johnson</text></g>
<g id="r3"><rect class="lvi sh" x="1644" y="774" width="122" height="275"/>
<text y="790.7"><tspan x="1654" class="s">Some things to talk about when</tspan><tspan x="1654" dy="9.15" class="s">discussing masturbation include:</tspan><tspan x="1657.5" dy="9.15" class="s">•</tspan><tspan x="1663" class="s">Masturbation is when someone</tspan><tspan x="1663" dy="9.15" class="s">touches their private parts to</tspan><tspan x="1663" dy="9.15" class="s">make them feel good.</tspan><tspan x="1657.5" dy="9.15" class="s">•</tspan><tspan x="1663" class="s">Masturbation is normal. Some</tspan><tspan x="1663" dy="9.15" class="s">people choose to do it and</tspan><tspan x="1663" dy="9.15" class="s">others choose not to.</tspan><tspan x="1657.5" dy="9.15" class="s">•</tspan><tspan x="1663" class="s">Masturbation is not harmful</tspan><tspan x="1663" dy="9.15" class="s">unless it interferes with being</tspan><tspan x="1663" dy="9.15" class="s">involved with daily activities</tspan><tspan x="1663" dy="9.15" class="s">(e.g., youth misses school to</tspan><tspan x="1663" dy="9.15" class="s">stay home to masturbate).</tspan><tspan x="1657.5" dy="9.15" class="s">•</tspan><tspan x="1663" class="s">Masturbation is OK if it is done</tspan><tspan x="1663" dy="9.15" class="s">in private (e.g., alone in the</tspan><tspan x="1663" dy="9.15" class="s">bathroom or bedroom at home</tspan><tspan x="1663" dy="9.15" class="s">with the door closed). Be sure</tspan><tspan x="1663" dy="9.15" class="s">to identify the private places at</tspan><tspan x="1663" dy="9.15" class="s">home. Teach that even when</tspan><tspan x="1663" dy="9.15" class="s">alone in the family room, that</tspan><tspan x="1663" dy="9.15" class="s">space is not private.</tspan><tspan x="1657.5" dy="9.15" class="s">•</tspan><tspan x="1663" class="s">It may help to set some</tspan><tspan x="1663" dy="9.15" class="s">guidelines about how to clean</tspan><tspan x="1663" dy="9.15" class="s">up after.</tspan></text><text class="e" x="1654" y="1037">Elise Johnson</text></g>
<g id="l4"><rect class="lvi sh" x="2185" y="749.3" width="122" height="122.4"/>
<text y="768.3"><tspan x="2195">Recreate this diagram to</tspan><tspan x="2195" dy="12.25">explore how social</tspan><tspan x="2195" dy="12.25">exclusion puts people with</tspan><tspan x="2195" dy="12.25">IDD at risk--- Could be</tspan><tspan x="2195" dy="12.25">important infographic to</tspan><tspan x="2195" dy="12.25">have at daapworks</tspan></text><text class="e" x="2195" y="859.5">Elise Johnson</text></g>
</g>

<g id="green" class="gt">
<g id="g1"><rect class="lgr sh" x="1817" y="162" width="122" height="146.6"/>
<text y="181"><tspan x="1827">It’s critical to teach your</tspan><tspan x="1827" dy="12.25">loved one with IDD social</tspan><tspan x="1827" dy="12.25">boundaries and personal</tspan><tspan x="1827" dy="12.25">space. These “rules of the</tspan><tspan x="1827" dy="12.25">road” center around</tspan><tspan x="1827" dy="12.25">instilling good people</tspan><tspan x="1827" dy="12.25">skills while actively using</tspan><tspan x="1827" dy="12.25">thoughtfulness toward</tspan><tspan x="1827" dy="12.25">others.</tspan></text><use href="#bar2" x="1822" y="286"/></g>
<g id="g2"><rect class="lgr sh" x="1817" y="341.6" width="122" height="318"/>
<text y="360"><tspan x="1827">It is important to note that</tspan><tspan x="1827" dy="12.25">previous reviews on</tspan><tspan x="1827" dy="12.25">strategies for fostering</tspan><tspan x="1827" dy="12.25">social skills have focused</tspan><tspan x="1827" dy="12.25">on studies that used</tspan><tspan x="1827" dy="12.25">video-based intervention</tspan><tspan x="1827" dy="12.25">for individuals with</tspan><tspan x="1827" dy="12.25">developmental disabilities,</tspan><tspan x="1827" dy="12.25">including ASD. Ayres and</tspan><tspan x="1827" dy="12.25">Langone (<tspan class="u">45</tspan>) reviewed</tspan><tspan x="1827" dy="12.25">the use of video modelling</tspan><tspan x="1827" dy="12.25">to teach social and</tspan><tspan x="1827" dy="12.25">functional skills. In their</tspan><tspan x="1827" dy="12.25">study, they concluded</tspan><tspan x="1827" dy="12.25">that the use of video</tspan><tspan x="1827" dy="12.25">modelling for teaching</tspan><tspan x="1827" dy="12.25">these skills was highly</tspan><tspan x="1827" dy="12.25">effective. By categorising</tspan><tspan x="1827" dy="12.25">video modelling studies</tspan><tspan x="1827" dy="12.25">into adult, peer, self, and</tspan><tspan x="1827" dy="12.25">point of view models (<tspan class="u">46</tspan>),</tspan><tspan x="1827" dy="12.25">presented an overview of</tspan><tspan x="1827" dy="12.25">video modelling research</tspan></text><use href="#bar" x="1822" y="639"/></g>
<g id="g3"><rect class="lgr sh" x="1817" y="694" width="122" height="355"/>
<text y="713.3"><tspan x="1827">Individual-level</tspan><tspan x="1827" dy="12.25">barriers include lower</tspan><tspan x="1827" dy="12.25">level of social and</tspan><tspan x="1827" dy="12.25">communication skill</tspan><tspan x="1827" dy="12.25">training, lack of personal</tspan><tspan x="1827" dy="12.25">assistance and support;</tspan><tspan x="1827" dy="12.25">lack of access to adapted</tspan><tspan x="1827" dy="12.25">sports equipment, lack of</tspan><tspan x="1827" dy="12.25">braille or versions for</tspan><tspan x="1827" dy="12.25">people who use screen</tspan><tspan x="1827" dy="12.25">readers. Internalised</tspan><tspan x="1827" dy="12.25">barriers can affect dignity</tspan><tspan x="1827" dy="12.25">and confidence of people</tspan><tspan x="1827" dy="12.25">with disabilities, for</tspan><tspan x="1827" dy="12.25">instance, societal stigma</tspan><tspan x="1827" dy="12.25">can result in people with</tspan><tspan x="1827" dy="12.25">disabilities being</tspan><tspan x="1827" dy="12.25">segregated, constrained</tspan><tspan x="1827" dy="12.25">in their homes, or</tspan><tspan x="1827" dy="12.25">institutionalised. This can</tspan><tspan x="1827" dy="12.25">further lead to denied</tspan><tspan x="1827" dy="12.25">opportunities—including</tspan><tspan x="1827" dy="12.25">opportunities to establish</tspan><tspan x="1827" dy="12.25">relationships, express</tspan><tspan x="1827" dy="12.25">their sexuality, marry, and</tspan><tspan x="1827" dy="12.25">have families.</tspan></text><text class="e" x="1827" y="1037">Elise Johnson</text><use href="#bar" x="1848.7" y="1035"/></g>
<g id="g4"><rect class="lgr sh" x="1955.7" y="162" width="122" height="563"/>
<text y="181"><tspan x="1966">So much of an individual's</tspan><tspan x="1966" dy="12.25">life with an IDD is getting</tspan><tspan x="1966" dy="12.25">them to fit into the “norm”</tspan><tspan x="1966" dy="12.25">of society. It's important to</tspan><tspan x="1966" dy="12.25">recognize the balance of</tspan><tspan x="1966" dy="12.25">teaching them how to be</tspan><tspan x="1966" dy="12.25">safe members of society</tspan><tspan x="1966" dy="12.25">in their own bodies,</tspan><tspan x="1966" dy="12.25">without forcing them to be</tspan><tspan x="1966" dy="12.25">individuals they were</tspan><tspan x="1966" dy="12.25">never meant to be. As a</tspan><tspan x="1966" dy="12.25">society of typically</tspan><tspan x="1966" dy="12.25">developing adults there is</tspan><tspan x="1966" dy="12.25">a call and a responsibility</tspan><tspan x="1966" dy="12.25">on our end to be more</tspan><tspan x="1966" dy="12.25">inclusive and accepting of</tspan><tspan x="1966" dy="12.25">those with IDD as they</tspan><tspan x="1966" dy="12.25">currently are without</tspan><tspan x="1966" dy="12.25">having to force them into</tspan><tspan x="1966" dy="12.25">our societal norms.</tspan><tspan x="1966" dy="12.25">Many adults with</tspan><tspan x="1966" dy="12.25">disabilities, particularly</tspan><tspan x="1966" dy="12.25">those in the Autism</tspan><tspan x="1966" dy="12.25">community believe that</tspan><tspan x="1966" dy="12.25">there is a lot more work</tspan><tspan x="1966" dy="12.25">that can be done to</tspan><tspan x="1966" dy="12.25">accept those who are</tspan><tspan x="1966" dy="12.25">neuro-divergent or have</tspan><tspan x="1966" dy="12.25">IDD. They feel much of</tspan><tspan x="1966" dy="12.25">their life involves masking</tspan><tspan x="1966" dy="12.25">to accepted by the</tspan><tspan x="1966" dy="12.25">majority of society.</tspan><tspan x="1966" dy="12.25">The best scenario is likely</tspan><tspan x="1966" dy="12.25">somewhere in the middle.</tspan><tspan x="1966" dy="12.25">We need to teach</tspan><tspan x="1966" dy="12.25">individuals with disabilities</tspan><tspan x="1966" dy="12.25">how to be safe around</tspan><tspan x="1966" dy="12.25">other people, and how to</tspan><tspan x="1966" dy="12.25">keep themselves safe</tspan><tspan x="1966" dy="12.25">within society, while also</tspan><tspan x="1966" dy="12.25">leaving room for them to</tspan><tspan x="1966" dy="12.25">be the unique individual</tspan><tspan x="1966" dy="12.25">they were created to be.</tspan></text><use href="#bar" x="1961" y="705"/></g>
<g id="g5"><rect class="lgr sh" x="2110.7" y="162" width="122.3" height="60"/>
<text y="181"><tspan x="2120.7">Impact on quality of social</tspan><tspan x="2120.7" dy="12.25">interactions pre and post</tspan><tspan x="2120.7" dy="12.25">peer intervention</tspan></text><use href="#bar" x="2110.7" y="287"/></g>
<g id="g6"><rect class="lgr sh" x="2282.3" y="145.3" width="122.4" height="220"/>
<text y="160.7" style="font-size:5.7px"><tspan x="2292.7">All five students with ID reported they</tspan><tspan x="2292.7" dy="7.65">enjoyed working with their peers, learned</tspan><tspan x="2292.7" dy="7.65">new things on the job, and considered the</tspan><tspan x="2292.7" dy="7.65">peer their friend. Several students smiled</tspan><tspan x="2292.7" dy="7.65">and excitedly answered that they enjoyed</tspan><tspan x="2292.7" dy="7.65">working and would like to continue</tspan><tspan x="2292.7" dy="7.65">working with their peers. All peers</tspan><tspan x="2292.7" dy="7.65">deemed that their partners' job and social</tspan><tspan x="2292.7" dy="7.65">skills improved and felt confident that the</tspan><tspan x="2292.7" dy="7.65">training was sufficient to serve as a peer.</tspan><tspan x="2292.7" dy="7.65">The peers reported the intervention was</tspan><tspan x="2292.7" dy="7.65">not difficult to implement, understood how</tspan><tspan x="2292.7" dy="7.65">PMIs could be an asset when helping</tspan><tspan x="2292.7" dy="7.65">students with ID learn job and social skills,</tspan><tspan x="2292.7" dy="7.65">and deemed their partner a friend. This</tspan><tspan x="2292.7" dy="7.65">experience also appeared to improve the</tspan><tspan x="2292.7" dy="7.65">peers' perceptions about people with ID</tspan><tspan x="2292.7" dy="7.65">based on anecdotal comments provided</tspan><tspan x="2292.7" dy="7.65">by the peers such as when Melissa</tspan><tspan x="2292.7" dy="7.65">commented, 'This project changed my</tspan><tspan x="2292.7" dy="7.65">views on people with disabilities</tspan><tspan x="2292.7" dy="7.65">immensely. Beth showed me that with a</tspan><tspan x="2292.7" dy="7.65">little bit of guidance, people with</tspan><tspan x="2292.7" dy="7.65">disabilities can conquer anything.</tspan></text><text class="e" x="2292.7" y="353">Elise Johnson</text></g>
</g>

<g id="chart"><rect class="sh" x="2106.3" y="210" width="156" height="78" rx="5" fill="#fff" stroke="#e4e4e4"/>
<g transform="translate(2100 130) scale(.3333)">
<rect x="179" y="254" width="150" height="16" fill="#fff" stroke="#444"/><text class="lab" x="254" y="265">■ Pretest - DS    □ Posttest - DS</text>
<path d="M58,280V418H475" fill="none" stroke="#555" stroke-width="1.5"/>
<path d="M53,280H58M53,307H58M53,335H58M53,363H58M53,390H58M53,418H58" stroke="#555" stroke-width="1.5"/>
<g fill="#000"><rect x="79" y="358" width="21" height="60"/><rect x="162" y="339" width="21" height="79"/><rect x="245" y="343" width="21" height="75"/><rect x="327" y="347" width="21" height="71"/><rect x="410" y="339" width="21" height="79"/></g>
<g fill="#8c8c8c"><rect x="101" y="330" width="21" height="88"/><rect x="184" y="315" width="21" height="103"/><rect x="266" y="326" width="22" height="92"/><rect x="349" y="320" width="21" height="98"/><rect x="432" y="310" width="22" height="108"/></g>
<g class="lab"><text class="lab" x="100" y="434">Kim &amp; Jenn</text><text class="lab" x="183" y="434">Beth &amp; Melissa</text><text class="lab" x="266" y="434">Tom &amp; Bree</text><text class="lab" x="350" y="434">Jeannie &amp; Julia</text><text class="lab" x="433" y="434">Chris &amp; Katie</text><text class="lab" x="265" y="460">Participant Dyads</text></g>
<text class="lab" transform="translate(41 350) rotate(-90)">Likert Scale Rating (Points)</text>
</g></g>

<g id="infographic"><rect class="sh" x="2000.3" y="777.7" width="189" height="147.3" rx="6" fill="#fff" stroke="#e4e4e4"/>
<g transform="translate(1800 680) scale(.3333)">
<g class="box"><rect class="box" x="617" y="314" width="47" height="38"/><rect class="box" x="617" y="392" width="42" height="38"/><rect class="box" x="614" y="458" width="46" height="46"/><rect class="box" x="617" y="546" width="49" height="40"/><rect class="box" x="614" y="625" width="66" height="24"/><rect class="box" x="618" y="665" width="62" height="30"/><path class="box" d="M617,720V703H683V720"/>
<path class="box" d="M1155,307H670V362H1155"/>
<rect class="box" x="665" y="393" width="105" height="37"/><rect class="box" x="785" y="392" width="235" height="38"/><rect class="box" x="1059" y="392" width="92" height="38"/>
<rect class="box" x="664" y="452" width="107" height="60"/><rect class="box" x="776" y="452" width="80" height="53"/><rect class="box" x="860" y="452" width="92" height="53"/><rect class="box" x="956" y="452" width="96" height="53"/><rect class="box" x="1059" y="454" width="92" height="53"/>
<rect class="box" x="679" y="532" width="90" height="69"/><rect class="box" x="776" y="544" width="270" height="46"/><rect class="box" x="1058" y="534" width="90" height="62"/>
<rect class="box" x="692" y="623" width="432" height="34"/>
<rect class="box" x="688" y="665" width="94" height="30"/><rect class="box" x="787" y="665" width="88" height="30"/><rect class="box" x="880" y="665" width="86" height="30"/><rect class="box" x="972" y="665" width="68" height="30"/><rect class="box" x="1046" y="665" width="86" height="30"/>
<path class="box" d="M695,720V703H1128V720"/></g>
<path class="ar" d="M714,452V432M805,452V432M897,452V432M1006,452V432M1104,454V432M714,532V512M805,544V505M897,544V505M1006,544V505M1104,534V507M720,623V601M895,623V590M1104,623V596"/>
<text class="tiny" x="911" y="318">People with disabilities have a supportive network of relationships</text>
<text class="tiny" x="911" y="336">Community level: a fact-fostered inclusive environment</text>
<text class="tiny" x="911" y="355">People with disabilities have access to, participation in social and everyday life of the community</text>
<text class="tiny" x="712" y="381" style="font-weight:700">Individual level</text><text class="tiny" x="885" y="381" style="font-weight:700">Community level</text><text class="tiny" x="1106" y="381" style="font-weight:700">System level</text>
<path class="tx" d="M625,323H656M625,332H656M625,341H656M625,400H651M625,410H651M625,421H651M622,465H652M622,474H652M622,483H652M622,495H652M625,555H658M625,566H658M622,635H672M626,675H672M626,685H672M630,712H672"/>
<path class="tx" d="M672,400H764M672,411H764M690,422H745M840,400H965M1068,402H1144M1075,414H1136M672,459H766M672,467H766M672,475H766M672,483H766M672,491H766M695,500H740M782,460H850M782,470H850M782,480H850M790,490H840M868,460H946M868,470H946M868,480H946M885,490H925M962,460H1046M962,469H1046M962,478H1046M962,487H1046M980,495H1030M1068,471H1142M1075,482H1136"/>
<path class="tx" d="M688,540H762M688,551H762M688,562H762M695,574H755M782,552H1040M782,563H1040M810,575H1010M1066,545H1142M1070,555H1140M1070,566H1140M1070,578H1140M710,637H740M710,647H740M775,635H820M775,646H820M852,638H878M852,648H878M908,636H960M908,647H960M975,644H995M1025,640H1045M1066,635H1095M1066,646H1095M695,673H775M695,684H775M795,673H868M795,684H868M887,673H960M887,684H960M980,673H1032M980,684H1032M1052,673H1126M1052,684H1126M725,711H1100"/>
</g></g>

<g id="connectors">
<path class="con" d="M1352,144.6 L1160,144.6 Q1145,144.6 1145,130 L1145,102 Q1145,88 1160,88 L1465,88 Q1477.7,88 1477.7,100 L1477.7,216 Q1477.7,229 1465,229 L1376.5,229"/>
<path class="con" d="M1268,296 V308.5"/>
<path class="con" d="M1268,433 V445.5"/>
<path class="con" d="M1277,639.5 L1285,639.5 C1293,639.5 1292,626 1302,626 L1312.5,626"/>
<path class="con" d="M1277,639.5 L1285,639.5 C1292,640 1295,648 1295,655 L1295,698 C1295,708 1300,715 1312.5,715"/>
<path class="con" d="M1282,854.7 L1290,854.7 C1298,854.7 1296,849 1304,849 L1312.5,849"/>
<path class="con" d="M1705,733 V771"/>
<path class="con" d="M1941,871.7 L1960,871.7 C1972,871 1966,851.7 1978,851.7 L1999,851.7"/>
<path class="con" d="M2234.5,222.7 C2256,222 2264,225 2266,240 C2268,252 2272,256 2280,256"/>
</g>

<g id="talking" class="rt"><rect class="lre sh" x="1355" y="104.6" width="113" height="80.4"/>
<text y="124" style="font-size:11.8px"><tspan x="1360.5">TALKING TO</tspan><tspan x="1360.5" dy="18.2">PEOPLE IN</tspan><tspan x="1360.5" dy="18.2">COMMUNITY</tspan></text><text class="e2" x="1360.5" y="178">Elise Johnson</text></g>

<g id="bubble" transform="translate(1800 680) scale(.3333)">
<path d="M1125,118 C1150,108 1190,108 1215,118 C1240,122 1250,145 1246,170 C1252,200 1240,235 1210,240 C1190,250 1165,250 1150,238 C1120,245 1095,220 1098,190 C1088,165 1095,130 1125,118 Z" fill="url(#bub)" stroke="#3D2A8A" stroke-width="9"/>
<circle cx="1143" cy="245" r="14" fill="#A88FEE" stroke="#3D2A8A" stroke-width="7"/><circle cx="1119" cy="263" r="9" fill="#A88FEE" stroke="#3D2A8A" stroke-width="6"/>
<circle cx="1139" cy="176" r="11" fill="#fff"/><circle cx="1171" cy="176" r="11" fill="#fff"/><circle cx="1204" cy="176" r="11" fill="#fff"/>
</g>

<text id="topic-title" x="60.6" y="1280" style="font-size:35px;font-weight:600;fill:#111">Topic Spaces</text>
<g id="tile1" class="yt"><rect class="ye" x="60.6" y="1342.7" width="550" height="153"/><text class="tile" x="335.6" y="1434">Why Social Deficits Exist</text></g>
<g id="tile2" class="yt"><rect class="ye" x="636" y="1342.7" width="480" height="153"/><text class="tile" x="876" y="1434">Barriers to Socialization</text></g>
<g id="tile3"><rect class="re" x="1141.6" y="1342.7" width="585" height="153"/><text class="tile" x="1434" y="1434" style="fill:#fff">Perspective of people with IDD</text></g>
<g id="tile4"><rect class="gr" x="1752" y="1342.7" width="673" height="153"/><text class="tile" x="2088.5" y="1434" style="fill:#e8fbf0">Impact on Social Interventions</text></g>
<g id="tile5" class="yt"><rect class="ye" x="60.6" y="1518.3" width="456" height="152"/><text class="tile" x="288.6" y="1608">Affect on Relationships</text></g>
<g id="tile6" class="vt"><rect class="li" x="542" y="1518.3" width="677.6" height="153"/><text class="tile" x="880.8" y="1608">Importance of Defining Boundaries</text></g>
<g id="tile7"><rect class="gr" x="1245" y="1518.3" width="658.6" height="152"/><text class="tile" x="1574.3" y="1608" style="fill:#e8fbf0">Insights about teaching boundaries</text></g>
</svg>
